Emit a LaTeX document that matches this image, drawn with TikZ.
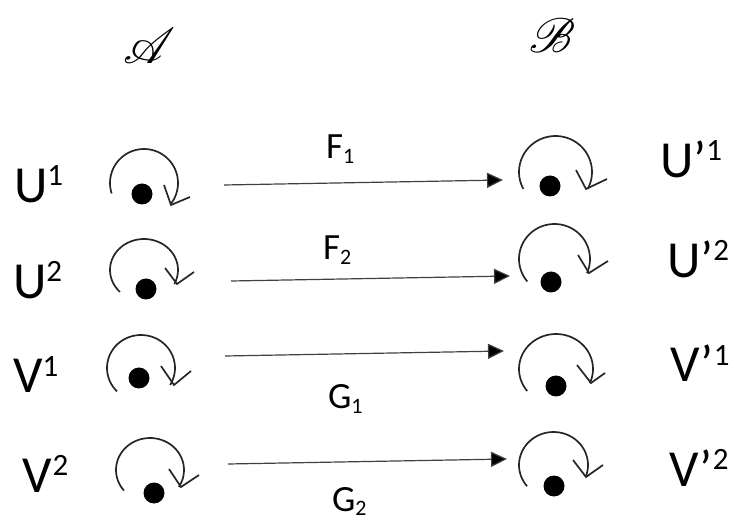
\documentclass[tikz,border=0pt]{standalone}
\usepackage{fontspec}
\usepackage{graphicx}
\usepackage{mathrsfs}
\setmainfont{Carlito}
\usetikzlibrary{arrows.meta}
\newcommand{\suplab}[2]{\fontsize{52}{52}\selectfont #1\raisebox{17pt}{\fontsize{31}{31}\selectfont #2}}
\newcommand{\sublab}[2]{\fontsize{37}{37}\selectfont #1\raisebox{-4.5pt}{\fontsize{22}{22}\selectfont #2}}
\newcommand{\spinarc}[6]{\draw[spin] plot[smooth,domain=#5:#6,samples=48] ({#1+#3*cos(\x)},{#2+#4*sin(\x)});}
\tikzset{
  x=1pt,y=-1pt,
  lab/.style={anchor=base west,inner sep=0pt,outer sep=0pt},
  spin/.style={line width=1.7pt,draw=black!85,line join=miter},
  dotmark/.style={circle,fill=black,inner sep=0pt,minimum size=21pt},
  link/.style={line width=1.2pt,draw=black!75,-{Triangle[length=16pt,width=15pt,fill=black]}}
}
\begin{document}
\begin{tikzpicture}
\useasboundingbox (0,0) rectangle (731,518);
% headings
\node[inner sep=0pt] (hA) at (150,46) {\resizebox{52pt}{!}{$\mathscr{A}$}};
\node[inner sep=0pt] (hB) at (552,36) {\resizebox{46pt}{!}{$\mathscr{B}$}};
% side labels
\node[lab] (lU1) at (14,203) {\suplab{U}{1}};
\node[lab] (lU2) at (13,299) {\suplab{U}{2}};
\node[lab] (lV1) at (13,393) {\suplab{V}{1}};
\node[lab] (lV2) at (23,492) {\suplab{V}{2}};
\node[lab] (rU1) at (660,178) {\suplab{U’}{1}};
\node[lab] (rU2) at (667,278) {\suplab{U’}{2}};
\node[lab] (rV1) at (670,382) {\suplab{V’}{1}};
\node[lab] (rV2) at (669,486) {\suplab{V’}{2}};
% connector labels
\node[lab] (tF1) at (326,159) {\sublab{F}{1}};
\node[lab] (tF2) at (323,260) {\sublab{F}{2}};
\node[lab] (tG1) at (328,409) {\sublab{G}{1}};
\node[lab] (tG2) at (332,511) {\sublab{G}{2}};
% dots
\node[dotmark] (d1) at (142,194) {};
\node[dotmark] (d2) at (146,289) {};
\node[dotmark] (d3) at (139,378) {};
\node[dotmark] (d4) at (154,493) {};
\node[dotmark] (e1) at (550,186) {};
\node[dotmark] (e2) at (551,282) {};
\node[dotmark] (e3) at (556,386) {};
\node[dotmark] (e4) at (554,486) {};
% rotation arrows, left column
\spinarc{144}{183}{34}{34}{162}{399}
\draw[spin] (164,185) -- (171,205) -- (190,197);
\spinarc{144}{270}{34}{31}{135}{387}
\draw[spin] (165,268) -- (177,284) -- (194,272);
\spinarc{141}{368}{34}{33}{135}{391}
\draw[spin] (161,366) -- (174,385) -- (191,371);
\spinarc{150}{470}{34}{32}{140}{392}
\draw[spin] (169,469) -- (181,487) -- (199,475);
% rotation arrows, right column
\spinarc{555.5}{172}{36.5}{36}{152}{388}
\draw[spin] (576,170) -- (586,189) -- (607,179);
\spinarc{554.5}{259}{35.5}{35}{140}{384}
\draw[spin] (578,255) -- (589,273) -- (608,261);
\spinarc{556}{369}{37}{35}{141}{384}
\draw[spin] (577,365) -- (591,383) -- (605,373);
\spinarc{553.5}{465}{34.5}{33}{140}{381}
\draw[spin] (573,460) -- (586,477) -- (603,465);
% connectors
\coordinate (a1) at (224,185); \coordinate (b1) at (503,180);
\coordinate (a2) at (231,281); \coordinate (b2) at (510,276);
\coordinate (a3) at (225,356); \coordinate (b3) at (504,351);
\coordinate (a4) at (228,464); \coordinate (b4) at (507,459);
\draw[link] (a1) -- (b1);
\draw[link] (a2) -- (b2);
\draw[link] (a3) -- (b3);
\draw[link] (a4) -- (b4);
\end{tikzpicture}
\end{document}
